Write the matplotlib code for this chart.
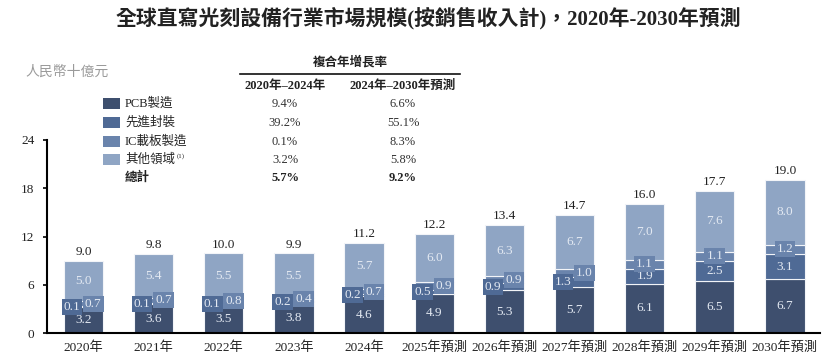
import matplotlib
matplotlib.use("Agg")
import matplotlib.pyplot as plt
import numpy as np
from matplotlib.lines import Line2D
from matplotlib.patches import Rectangle

plt.rcParams['font.family'] = ['Liberation Serif', 'Noto Sans CJK TC', 'DejaVu Sans']

years = ['2020年', '2021年', '2022年', '2023年', '2024年', '2025年預測', '2026年預測',
         '2027年預測', '2028年預測', '2029年預測', '2030年預測']
pcb = [3.2, 3.6, 3.5, 3.8, 4.6, 4.9, 5.3, 5.7, 6.1, 6.5, 6.7]
adv_pkg = [0.1, 0.1, 0.1, 0.2, 0.2, 0.5, 0.9, 1.3, 1.9, 2.5, 3.1]
ic_sub = [0.7, 0.7, 0.8, 0.4, 0.7, 0.9, 0.9, 1.0, 1.1, 1.1, 1.2]
other = [5.0, 5.4, 5.5, 5.5, 5.7, 6.0, 6.3, 6.7, 7.0, 7.6, 8.0]
totals = [9.0, 9.8, 10.0, 9.9, 11.2, 12.2, 13.4, 14.7, 16.0, 17.7, 19.0]

series_names = ['PCB製造', '先進封裝', 'IC載板製造', '其他領域']
cagr_2020_2024 = ['9.4%', '39.2%', '0.1%', '3.2%']
cagr_2024_2030 = ['6.6%', '55.1%', '8.3%', '5.8%']
total_cagr = ['5.7%', '9.2%']
yticks = [0, 6, 12, 18, 24]

colors = ['#3e4f6e', '#4f6a95', '#6a84ac', '#8fa5c4']
label_color = '#e3e9f2'

W, H = 831, 360
fig = plt.figure(figsize=(W / 100, H / 100), dpi=100)

def P(x, y):
    return x / W, 1 - y / H

ax_l, ax_r, ax_b, ax_t = 47, 820, 333, 140
ax = fig.add_axes([ax_l / W, 1 - ax_b / H, (ax_r - ax_l) / W, (ax_b - ax_t) / H])
ax.set_xlim(-0.52, 10.5)
ax.set_ylim(0, 24)

x = np.arange(len(years))
bw = 0.56
bottom = np.zeros(len(years))
for vals, c in zip([pcb, adv_pkg, ic_sub, other], colors):
    ax.bar(x, vals, bw, bottom=bottom, color=c, edgecolor='#f2f4f8', linewidth=0.8, zorder=2)
    bottom = bottom + np.array(vals)

fs_in = 9.5
for i in range(len(years)):
    b0 = pcb[i]
    b1 = b0 + adv_pkg[i]
    b2 = b1 + ic_sub[i]
    b3 = b2 + other[i]
    ax.text(x[i], b0 / 2, f'{pcb[i]:.1f}', ha='center', va='center', color=label_color,
            fontsize=fs_in, zorder=4)
    ax.text(x[i], (b2 + b3) / 2, f'{other[i]:.1f}', ha='center', va='center',
            color=label_color, fontsize=fs_in, zorder=4)
    ax.text(x[i], b3 + 0.35, f'{totals[i]:.1f}', ha='center', va='bottom', color='#222222',
            fontsize=fs_in, zorder=4)
    if i < 8:
        ax.text(x[i] - 0.165, (b0 + b1) / 2, f'{adv_pkg[i]:.1f}', ha='center', va='center',
                color=label_color, fontsize=fs_in, zorder=5,
                bbox=dict(boxstyle='square,pad=0.15', facecolor=colors[1], edgecolor='none'))
        ax.text(x[i] + 0.14, (b1 + b2) / 2, f'{ic_sub[i]:.1f}', ha='center', va='center',
                color=label_color, fontsize=fs_in, zorder=5,
                bbox=dict(boxstyle='square,pad=0.15', facecolor=colors[2], edgecolor='none'))
    else:
        ax.text(x[i], (b0 + b1) / 2, f'{adv_pkg[i]:.1f}', ha='center', va='center',
                color=label_color, fontsize=fs_in, zorder=5)
        ax.text(x[i], (b1 + b2) / 2, f'{ic_sub[i]:.1f}', ha='center', va='center',
                color=label_color, fontsize=fs_in, zorder=5,
                bbox=dict(boxstyle='square,pad=0.15', facecolor=colors[2], edgecolor='none'))

ax.set_xticks(x)
ax.set_xticklabels(years, fontsize=9.5, color='#222222')
ax.tick_params(axis='x', length=0, pad=6)
ax.set_yticks(yticks)
ax.set_yticklabels([str(t) for t in yticks], fontsize=9.5, color='#222222')
ax.tick_params(axis='y', length=3, width=1.2, pad=6, direction='out')
for s in ['top', 'right']:
    ax.spines[s].set_visible(False)
ax.spines['left'].set_linewidth(1.5)
ax.spines['bottom'].set_linewidth(1.5)
ax.set_facecolor('none')

# Title
fig.text(*P(428, 18), '全球直寫光刻設備行業市場規模(按銷售收入計)，2020年-2030年預測',
         ha='center', va='center', fontsize=15, fontweight='bold', color='#222222')

# Unit label
fig.text(*P(25, 72), '人民幣十億元', ha='left', va='center', fontsize=10,
         style='italic', color='#9a9a9a')

# CAGR table
fig.text(*P(350, 62), '複合年增長率', ha='center', va='center', fontsize=9,
         fontweight='bold', color='#222222')
fig.add_artist(Line2D([240 / W, 460 / W], [1 - 74 / H, 1 - 74 / H], color='#111111',
                      linewidth=1.2, transform=fig.transFigure))
col1_x, col2_x = 285, 403
fig.text(*P(col1_x, 86), '2020年–2024年', ha='center', va='center', fontsize=9,
         fontweight='bold', color='#222222')
fig.text(*P(col2_x, 86), '2024年–2030年預測', ha='center', va='center', fontsize=9,
         fontweight='bold', color='#222222')

row_y = [104, 123, 142, 160]
for name, c, v1, v2, yy in zip(series_names, colors, cagr_2020_2024, cagr_2024_2030, row_y):
    fig.add_artist(Rectangle((103 / W, 1 - (yy + 5) / H), 17 / W, 11 / H, facecolor=c,
                             edgecolor='none', transform=fig.transFigure))
    fig.text(*P(125, yy), name, ha='left', va='center', fontsize=9, color='#222222')
    fig.text(*P(col1_x, yy), v1, ha='center', va='center', fontsize=9, color='#333333')
    fig.text(*P(col2_x, yy), v2, ha='center', va='center', fontsize=9, color='#333333')
fig.text(*P(177, 156), '(1)', ha='left', va='center', fontsize=5, color='#222222')
fig.text(*P(125, 178), '總計', ha='left', va='center', fontsize=9, fontweight='bold',
         color='#222222')
fig.text(*P(col1_x, 178), total_cagr[0], ha='center', va='center', fontsize=9,
         fontweight='bold', color='#222222')
fig.text(*P(col2_x, 178), total_cagr[1], ha='center', va='center', fontsize=9,
         fontweight='bold', color='#222222')

fig.savefig('out.png', dpi=100)
